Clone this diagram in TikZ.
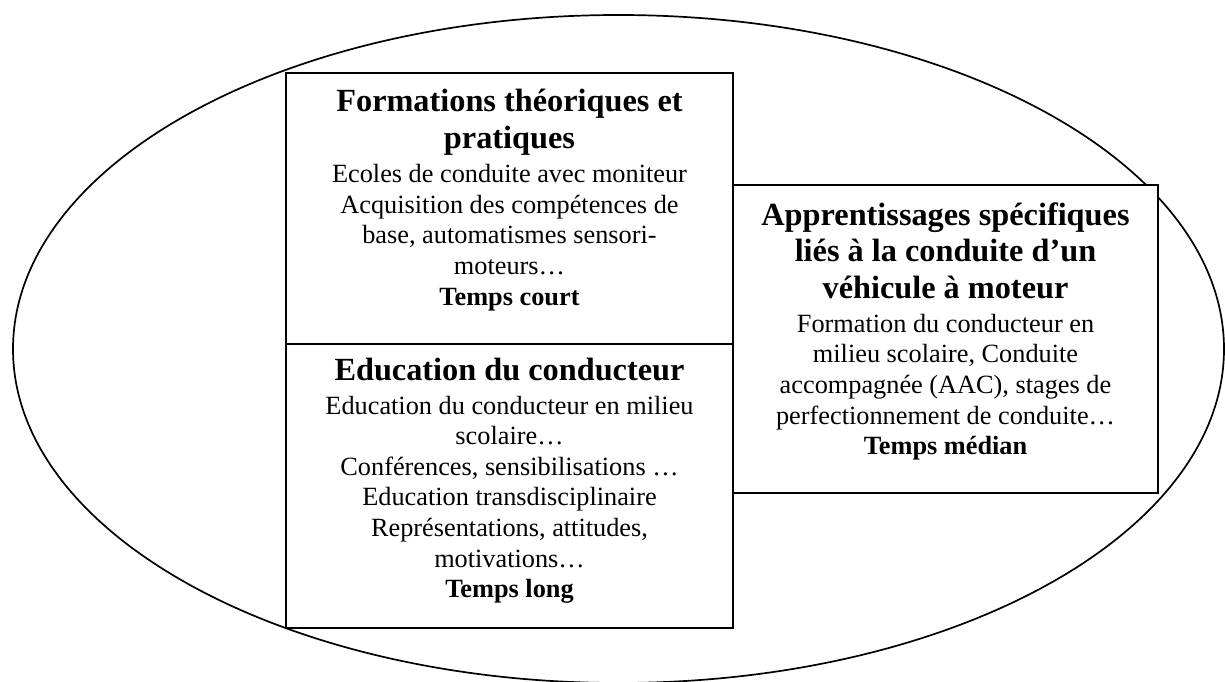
\documentclass[tikz,border=0pt]{standalone}
\usepackage{fontspec}
\setmainfont{Liberation Serif}
\newcommand{\titlef}{\bfseries\fontsize{32.3}{36.6}\selectfont\spaceskip=0pt\xspaceskip=0pt\relax}
\newcommand{\bodyf}{\fontsize{26.3}{30.6}\selectfont\spaceskip=0pt\xspaceskip=0pt\relax}
\begin{document}
\begin{tikzpicture}[x=1pt,y=-1pt,
  boxst/.style={draw, line width=1.6pt, fill=white, inner sep=0pt, rectangle},
  txtst/.style={inner sep=0pt, anchor=base}]
\useasboundingbox[fill=white] (0,0) rectangle (1225,682);
\draw[line width=1.7pt] (618.5,349) ellipse [x radius=605.5, y radius=334];
\node[boxst, minimum width=447pt, minimum height=271pt] (box1) at (509.5,208.5) {};
\node[boxst, minimum width=447pt, minimum height=284pt] (box2) at (509.5,486) {};
\node[boxst, minimum width=425pt, minimum height=308pt] (box3) at (945.5,339) {};
\node[txtst, text width=440pt] (t1) at (509.5,112) {\centering
{\titlef Formations théoriques et\\ pratiques\par}\vspace{3.4pt}%
{\bodyf Ecoles de conduite avec moniteur\\ Acquisition des compétences de\\ base, automatismes sensori-\\ moteurs…\\ \textbf{Temps court}\par}};
\node[txtst, text width=440pt] (t2) at (509.5,380) {\centering
{\titlef Education du conducteur\par}\vspace{3.4pt}%
{\bodyf Education du conducteur en milieu\\ scolaire…\\ Conférences, sensibilisations …\\ Education transdisciplinaire\\ Représentations, attitudes,\\ motivations…\\ \textbf{Temps long}\par}};
\node[txtst, text width=418pt] (t3) at (945.5,225) {\centering
{\titlef Apprentissages spécifiques\\ liés à la conduite d’un\\ véhicule à moteur\par}\vspace{3.4pt}%
{\bodyf Formation du conducteur en\\ milieu scolaire, Conduite\\ accompagnée (AAC), stages de\\ perfectionnement de conduite…\\ \textbf{Temps médian}\par}};
\end{tikzpicture}
\end{document}
